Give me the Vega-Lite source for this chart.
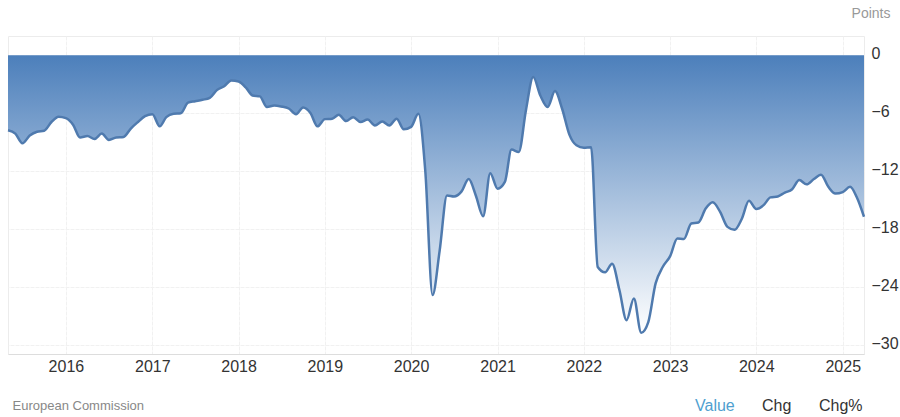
{"$schema":"https://vega.github.io/schema/vega-lite/v6.json","width":856,"height":318,"autosize":"none","padding":{"left":8,"top":36,"right":36,"bottom":63},"background":"white","config":{"font":"Liberation Sans","view":{"stroke":"#ececec","strokeWidth":1}},"datasets":{"series":[{"date":"2015-05-01","value":-7.76},{"date":"2015-06-01","value":-8.1},{"date":"2015-07-01","value":-9.1},{"date":"2015-08-01","value":-8.3},{"date":"2015-09-01","value":-7.9},{"date":"2015-10-01","value":-7.8},{"date":"2015-11-01","value":-6.9},{"date":"2015-12-01","value":-6.35},{"date":"2016-01-01","value":-6.5},{"date":"2016-02-01","value":-7.2},{"date":"2016-03-01","value":-8.5},{"date":"2016-04-01","value":-8.35},{"date":"2016-05-01","value":-8.65},{"date":"2016-06-01","value":-8.1},{"date":"2016-07-01","value":-8.75},{"date":"2016-08-01","value":-8.5},{"date":"2016-09-01","value":-8.45},{"date":"2016-10-01","value":-7.6},{"date":"2016-11-01","value":-6.9},{"date":"2016-12-01","value":-6.3},{"date":"2017-01-01","value":-6.1},{"date":"2017-02-01","value":-7.35},{"date":"2017-03-01","value":-6.4},{"date":"2017-04-01","value":-6.05},{"date":"2017-05-01","value":-6.0},{"date":"2017-06-01","value":-4.9},{"date":"2017-07-01","value":-4.75},{"date":"2017-08-01","value":-4.6},{"date":"2017-09-01","value":-4.4},{"date":"2017-10-01","value":-3.6},{"date":"2017-11-01","value":-3.2},{"date":"2017-12-01","value":-2.6},{"date":"2018-01-01","value":-2.7},{"date":"2018-02-01","value":-3.35},{"date":"2018-03-01","value":-4.15},{"date":"2018-04-01","value":-4.25},{"date":"2018-05-01","value":-5.35},{"date":"2018-06-01","value":-5.2},{"date":"2018-07-01","value":-5.3},{"date":"2018-08-01","value":-5.5},{"date":"2018-09-01","value":-6.1},{"date":"2018-10-01","value":-5.4},{"date":"2018-11-01","value":-5.97},{"date":"2018-12-01","value":-7.35},{"date":"2019-01-01","value":-6.6},{"date":"2019-02-01","value":-6.55},{"date":"2019-03-01","value":-6.15},{"date":"2019-04-01","value":-6.8},{"date":"2019-05-01","value":-6.4},{"date":"2019-06-01","value":-6.9},{"date":"2019-07-01","value":-6.65},{"date":"2019-08-01","value":-7.25},{"date":"2019-09-01","value":-6.85},{"date":"2019-10-01","value":-7.25},{"date":"2019-11-01","value":-6.55},{"date":"2019-12-01","value":-7.65},{"date":"2020-01-01","value":-7.4},{"date":"2020-02-01","value":-6.05},{"date":"2020-03-01","value":-11.9},{"date":"2020-04-01","value":-24.8},{"date":"2020-05-01","value":-20.2},{"date":"2020-06-01","value":-14.5},{"date":"2020-07-01","value":-14.6},{"date":"2020-08-01","value":-14.1},{"date":"2020-09-01","value":-12.8},{"date":"2020-10-01","value":-14.5},{"date":"2020-11-01","value":-16.65},{"date":"2020-12-01","value":-12.2},{"date":"2021-01-01","value":-13.8},{"date":"2021-02-01","value":-13.1},{"date":"2021-03-01","value":-9.75},{"date":"2021-04-01","value":-10.0},{"date":"2021-05-01","value":-5.7},{"date":"2021-06-01","value":-2.25},{"date":"2021-07-01","value":-4.15},{"date":"2021-08-01","value":-5.35},{"date":"2021-09-01","value":-3.7},{"date":"2021-10-01","value":-5.5},{"date":"2021-11-01","value":-8.2},{"date":"2021-12-01","value":-9.3},{"date":"2022-01-01","value":-9.55},{"date":"2022-02-01","value":-9.5},{"date":"2022-03-01","value":-21.9},{"date":"2022-04-01","value":-22.45},{"date":"2022-05-01","value":-21.55},{"date":"2022-06-01","value":-24.3},{"date":"2022-07-01","value":-27.4},{"date":"2022-08-01","value":-25.15},{"date":"2022-09-01","value":-28.7},{"date":"2022-10-01","value":-27.6},{"date":"2022-11-01","value":-23.6},{"date":"2022-12-01","value":-21.9},{"date":"2023-01-01","value":-20.8},{"date":"2023-02-01","value":-18.95},{"date":"2023-03-01","value":-19.0},{"date":"2023-04-01","value":-17.4},{"date":"2023-05-01","value":-17.3},{"date":"2023-06-01","value":-15.85},{"date":"2023-07-01","value":-15.2},{"date":"2023-08-01","value":-16.2},{"date":"2023-09-01","value":-17.75},{"date":"2023-10-01","value":-18.05},{"date":"2023-11-01","value":-16.9},{"date":"2023-12-01","value":-15.05},{"date":"2024-01-01","value":-15.9},{"date":"2024-02-01","value":-15.5},{"date":"2024-03-01","value":-14.7},{"date":"2024-04-01","value":-14.6},{"date":"2024-05-01","value":-14.2},{"date":"2024-06-01","value":-13.85},{"date":"2024-07-01","value":-12.9},{"date":"2024-08-01","value":-13.35},{"date":"2024-09-01","value":-12.8},{"date":"2024-10-01","value":-12.35},{"date":"2024-11-01","value":-13.6},{"date":"2024-12-01","value":-14.3},{"date":"2025-01-01","value":-14.15},{"date":"2025-02-01","value":-13.6},{"date":"2025-03-01","value":-14.65},{"date":"2025-04-01","value":-16.7}]},"layer":[{"data":{"name":"series"},"mark":{"type":"area","interpolate":"monotone","color":{"gradient":"linear","x1":0,"y1":0,"x2":0,"y2":1,"stops":[{"offset":0,"color":"#4c7fbb"},{"offset":1,"color":"#ffffff"}]}},"encoding":{"x":{"field":"date","type":"temporal","scale":{"type":"utc","domain":["2015-05-01","2025-04-01"]},"axis":{"values":["2016-01-01","2017-01-01","2018-01-01","2019-01-01","2020-01-01","2021-01-01","2022-01-01","2023-01-01","2024-01-01","2025-01-01"],"format":"%Y","formatType":"utc","labelFontSize":16,"labelColor":"#333333","labelPadding":4,"ticks":false,"domain":true,"domainColor":"#dddddd","grid":true,"gridColor":"#f1f1f1","gridDash":[4,1],"labelFlush":false,"title":"European Commission","titleFontSize":13,"titleFontWeight":"normal","titleColor":"#888888","titleAnchor":"start","titleAlign":"left","titleX":4,"titleY":51,"titleBaseline":"middle"}},"y":{"field":"value","type":"quantitative","scale":{"domain":[-30.9,2],"nice":false,"zero":false},"axis":{"orient":"right","values":[0,-6,-12,-18,-24,-30],"labelFontSize":16,"labelColor":"#333333","labelPadding":7,"labelAlign":"left","labelOffset":-2,"ticks":false,"domain":false,"grid":true,"gridColor":"#f1f1f1","gridDash":[4,1],"title":"Points","titleFontSize":14,"titleFontWeight":"normal","titleColor":"#999999","titleAngle":0,"titleAlign":"right","titleBaseline":"middle","titleX":26,"titleY":-23}},"y2":{"datum":0}}},{"data":{"name":"series"},"mark":{"type":"line","interpolate":"monotone","color":"#4f7aae","strokeWidth":2.5},"encoding":{"x":{"field":"date","type":"temporal"},"y":{"field":"value","type":"quantitative"}}},{"data":{"values":[{"tab":"Value"},{"tab":"Chg"},{"tab":"Chg%"}]},"mark":{"type":"point","opacity":0,"size":0},"encoding":{"color":{"field":"tab","type":"nominal","scale":{"domain":["Value","Chg","Chg%"],"range":["#4f9fd0","#333333","#333333"]},"legend":{"orient":"none","legendX":671,"legendY":362,"direction":"horizontal","title":null,"symbolSize":0,"symbolOpacity":0,"symbolStrokeWidth":0,"labelOffset":0,"labelFontSize":16,"columnPadding":11,"gridAlign":"none","labelColor":{"expr":"datum.value === 'Value' ? '#4f9fd0' : '#333333'"}}}}}]}
